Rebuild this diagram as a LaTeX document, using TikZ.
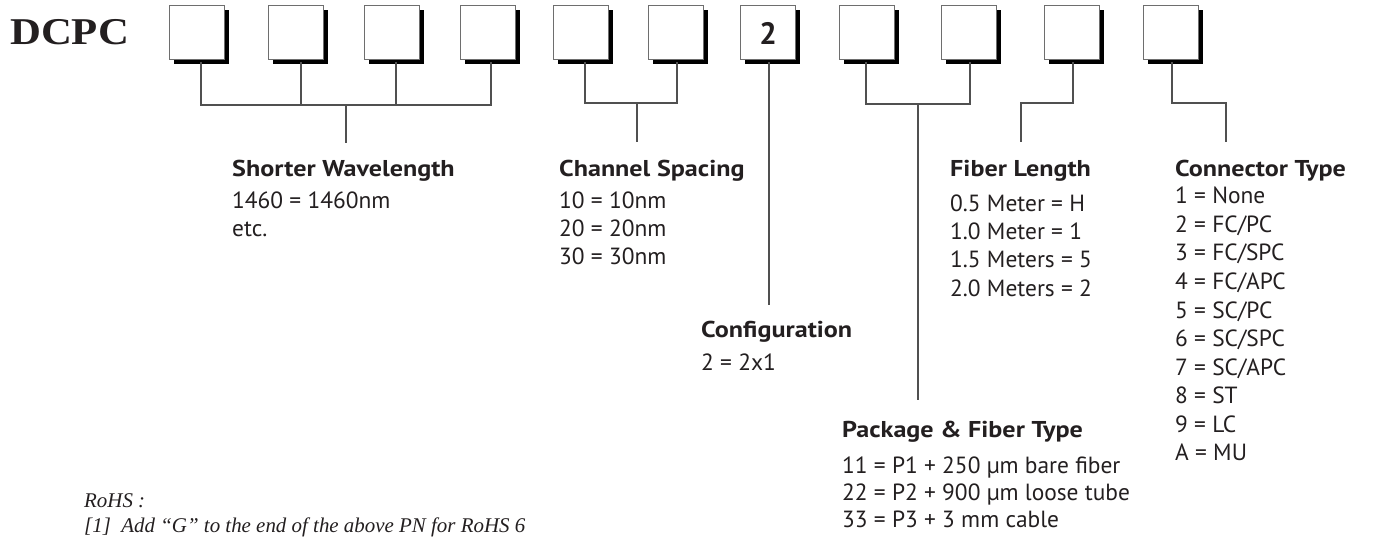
\documentclass[tikz,border=0pt]{standalone}
\usepackage{fontspec}
\setmainfont{PT Sans}
\newfontfamily\dcpcfont{Liberation Serif}
\definecolor{boxgray}{HTML}{6E6E6E}
\definecolor{linegray}{HTML}{505050}
\definecolor{txt}{HTML}{231F20}
\newcommand{\hd}[1]{\scalebox{1.14}[1]{#1}}
\tikzset{
  pbox/.style={draw=boxgray, line width=1.2bp, fill=white, minimum width=55bp, minimum height=54bp, inner sep=0pt, anchor=north west},
  pshadow/.style={fill=black, minimum width=55bp, minimum height=54bp, inner sep=0pt, anchor=north west},
  conn/.style={draw=linegray, line width=1.3bp},
  head/.style={anchor=base west, inner sep=0pt, text=txt, font=\fontsize{23}{26}\selectfont\bfseries},
  body/.style={anchor=base west, inner sep=0pt, text=txt, font=\fontsize{23.5}{28}\selectfont},
  note/.style={anchor=base west, inner sep=0pt, text=txt, font=\dcpcfont\itshape\fontsize{21}{24}\selectfont},
}
\begin{document}
\begin{tikzpicture}[x=1bp,y=-1bp]
\useasboundingbox (0,0) rectangle (1385,537);
% title
\node[anchor=base west, inner sep=0pt, text=txt, font=\dcpcfont\bfseries\fontsize{38}{40}\selectfont] (title) at (10,45) {\scalebox{1.13}[1]{DCPC}};
% stem tops
\foreach \i/\x in {1/201,2/301,3/396,4/491,5/585,6/677,7/769,8/866,9/970,10/1073,11/1172}{
  \coordinate (t\i) at (\x,62);
}
% boxes with shadows
\foreach \i/\x in {1/169,2/268,3/364,4/460,5/553,6/648,7/740,8/839,9/941,10/1044,11/1143}{
  \node[pshadow] (s\i) at (\x+5,10) {};
  \node[pbox] (b\i) at (\x,5) {};
}
\node[inner sep=0pt, text=txt, font=\fontsize{31}{32}\selectfont\bfseries] (two) at ([yshift=-1bp]b7.center) {2};
% connector coordinates
\coordinate (j1) at (346,105); \coordinate (e1) at (346,143);
\coordinate (j2) at (637,103); \coordinate (e2) at (637,142);
\coordinate (e7) at (769,305);
\coordinate (j3) at (918,104); \coordinate (e3) at (918,400);
\coordinate (e10) at (1021,142);
\coordinate (e11) at (1226,142);
% connectors
\draw[conn] (t1) |- (j1) -| (t4);
\draw[conn] (t2) -- (t2 |- j1);
\draw[conn] (t3) -- (t3 |- j1);
\draw[conn] (j1) -- (e1);
\draw[conn] (t5) |- (j2) -| (t6);
\draw[conn] (j2) -- (e2);
\draw[conn] (t7) -- (e7);
\draw[conn] (t8) |- (j3) -| (t9);
\draw[conn] (j3) -- (e3);
\draw[conn] (t10) -- (t10 |- j2) -| (e10);
\draw[conn] (t11) -- (t11 |- j2) -| (e11);
% Shorter Wavelength
\node[head] (h1) at (232,177) {\hd{Shorter Wavelength}};
\node[body] (h1a) at (232,209) {1460 = 1460nm};
\node[body] (h1b) at (232,237) {etc.};
% Channel Spacing
\node[head] (h2) at (559,177) {\hd{Channel Spacing}};
\node[body] (h2a) at (559,209) {10 = 10nm};
\node[body] (h2b) at (559,237) {20 = 20nm};
\node[body] (h2c) at (559,265) {30 = 30nm};
% Configuration
\node[head] (h3) at (701,337) {\hd{Configuration}};
\node[body] (h3a) at (701,370) {2 = 2x1};
% Package
\node[head] (h4) at (842,437) {\hd{Package \& Fiber Type}};
\node[body] (h4a) at (842,473) {11 = P1 + 250 µm bare fiber};
\node[body] (h4b) at (842,500) {22 = P2 + 900 µm loose tube};
\node[body] (h4c) at (842,527) {33 = P3 + 3 mm cable};
% Fiber Length
\node[head] (h5) at (950,177) {\hd{Fiber Length}};
\node[body] (h5a) at (950,212) {0.5 Meter = H};
\node[body] (h5b) at (950,240) {1.0 Meter = 1};
\node[body] (h5c) at (950,268) {1.5 Meters = 5};
\node[body] (h5d) at (950,296) {2.0 Meters = 2};
% Connector Type
\node[head] (h6) at (1175,177) {\hd{Connector Type}};
\foreach \k/\t in {0/{1 = None},1/{2 = FC/PC},2/{3 = FC/SPC},3/{4 = FC/APC},4/{5 = SC/PC},5/{6 = SC/SPC},6/{7 = SC/APC},7/{8 = ST},8/{9 = LC},9/{A = MU}}{
  \node[body] (c\k) at (1175,204+28.5*\k) {\t};
}
% RoHS note
\node[note] (r1) at (84,507) {RoHS :};
\node[note] (r2) at (84,532) {[1]\ \ Add “G” to the end of the above PN for RoHS 6};
\end{tikzpicture}
\end{document}
